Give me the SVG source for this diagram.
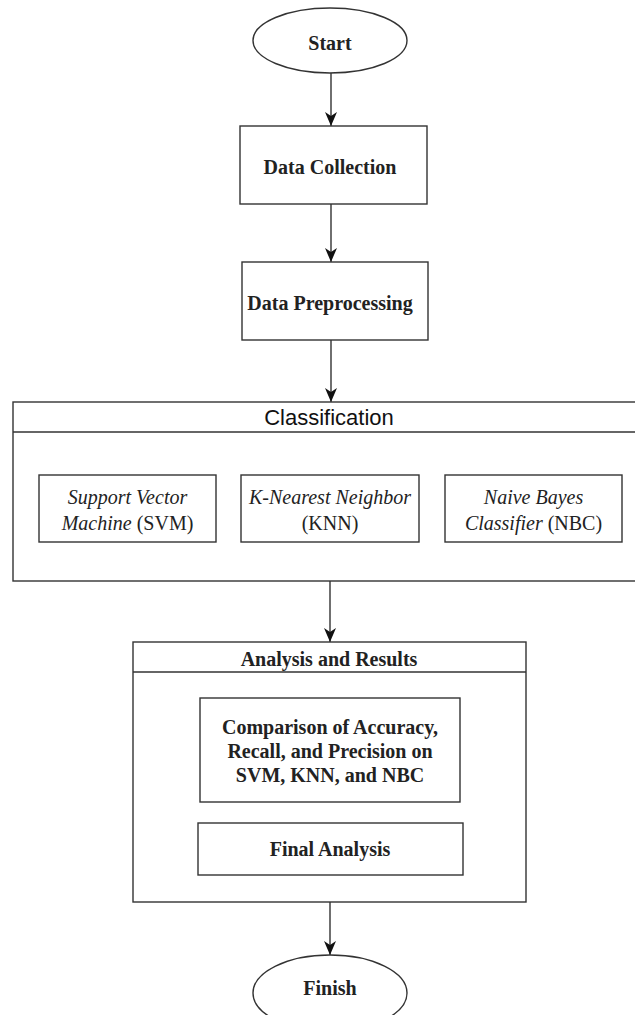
<svg xmlns="http://www.w3.org/2000/svg" width="635" height="1015" viewBox="0 0 635 1015">
<style>
.shape{fill:#ffffff;stroke:#333333;stroke-width:1.4}
.conn{fill:none;stroke:#333333;stroke-width:1.4}
.tb{font-family:"Liberation Serif","Times New Roman",serif;font-size:20px;font-weight:bold;fill:#222222;text-anchor:middle}
.tr{font-family:"Liberation Serif","Times New Roman",serif;font-size:20px;fill:#222222;text-anchor:middle}
.ts{font-family:"Liberation Sans",Arial,sans-serif;font-size:22px;fill:#111111;text-anchor:middle}
.it{font-style:italic}
</style>
<defs>
<marker id="arrow" markerUnits="userSpaceOnUse" viewBox="0 0 14 12" refX="14" refY="6" markerWidth="14" markerHeight="12" orient="auto">
<path d="M0,0 L14,6 L0,12 L4,6 Z" fill="#111111"/>
</marker>
</defs>
<rect width="635" height="1015" fill="#ffffff"/>

<g id="connectors">
<line class="conn" x1="331" y1="73" x2="331" y2="126" marker-end="url(#arrow)"/>
<line class="conn" x1="331" y1="204" x2="331" y2="262" marker-end="url(#arrow)"/>
<line class="conn" x1="331" y1="340" x2="331" y2="402" marker-end="url(#arrow)"/>
<line class="conn" x1="330" y1="581" x2="330" y2="642" marker-end="url(#arrow)"/>
<line class="conn" x1="330" y1="902" x2="330" y2="955" marker-end="url(#arrow)"/>
</g>

<g id="start">
<ellipse class="shape" cx="330" cy="40.5" rx="77" ry="32.5"/>
<text class="tb" x="330" y="50">Start</text>
</g>

<g id="data-collection">
<rect class="shape" x="240" y="126" width="187" height="78"/>
<text class="tb" x="330" y="174">Data Collection</text>
</g>

<g id="data-preprocessing">
<rect class="shape" x="242" y="262" width="186" height="78"/>
<text class="tb" x="330" y="310">Data Preprocessing</text>
</g>

<g id="classification">
<rect class="shape" x="13" y="402" width="634" height="179"/>
<line class="conn" x1="13" y1="432" x2="647" y2="432"/>
<text class="ts" x="329" y="425">Classification</text>
</g>

<g id="svm">
<rect class="shape" x="39" y="475" width="177" height="67"/>
<text class="tr it" x="127.5" y="504">Support Vector</text>
<text class="tr" x="127.5" y="530"><tspan class="it">Machine</tspan> (SVM)</text>
</g>

<g id="knn">
<rect class="shape" x="241" y="475" width="178" height="67"/>
<text class="tr it" x="330" y="504">K-Nearest Neighbor</text>
<text class="tr" x="330" y="530">(KNN)</text>
</g>

<g id="nbc">
<rect class="shape" x="445" y="475" width="177" height="67"/>
<text class="tr it" x="533.5" y="504">Naive Bayes</text>
<text class="tr" x="533.5" y="530"><tspan class="it">Classifier</tspan> (NBC)</text>
</g>

<g id="analysis-results">
<rect class="shape" x="133" y="642" width="393" height="260"/>
<line class="conn" x1="133" y1="672" x2="526" y2="672"/>
<text class="tb" x="329" y="666">Analysis and Results</text>
</g>

<g id="comparison">
<rect class="shape" x="200" y="698" width="260" height="104"/>
<text class="tb" x="330" y="734">Comparison of Accuracy,</text>
<text class="tb" x="330" y="758">Recall, and Precision on</text>
<text class="tb" x="330" y="782">SVM, KNN, and NBC</text>
</g>

<g id="final-analysis">
<rect class="shape" x="198" y="823" width="265" height="52"/>
<text class="tb" x="330" y="856">Final Analysis</text>
</g>

<g id="finish">
<ellipse class="shape" cx="330" cy="993" rx="77" ry="38"/>
<text class="tb" x="330" y="995">Finish</text>
</g>
</svg>
